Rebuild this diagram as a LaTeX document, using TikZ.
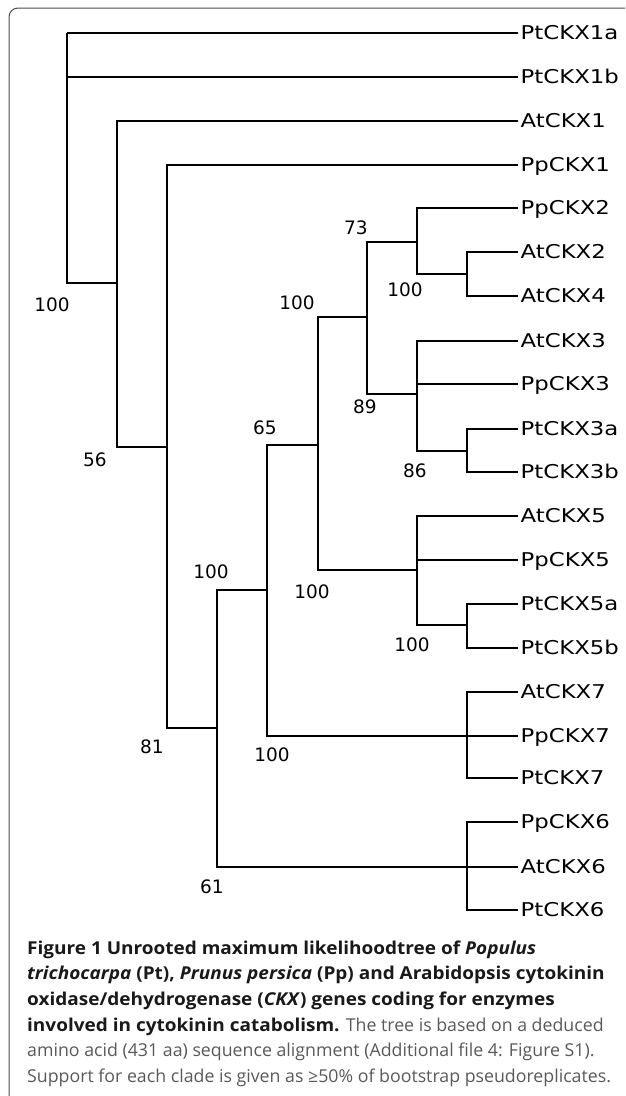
\documentclass[tikz,border=0pt]{standalone}
\usepackage{fontspec}
\setmainfont{Open Sans}[BoldFeatures={FakeStretch=1.07},BoldItalicFeatures={FakeStretch=1.07}]
\newfontfamily\leaffont{DejaVu Sans}[FakeStretch=1.2]
\newfontfamily\bootfont{DejaVu Sans}
\definecolor{framegray}{gray}{0.3}
\definecolor{capdark}{gray}{0.1}
\definecolor{capgray}{gray}{0.35}

\begin{document}
\begin{tikzpicture}[x=1pt,y=-1pt,
 branch/.style={line width=1.8pt},
 leaf/.style={anchor=west,inner sep=2.5pt,text height=13.5pt,text depth=0pt,
  font=\leaffont\fontsize{19}{19}\selectfont},
 boot/.style={inner sep=0pt,font=\bootfont\fontsize{18.5}{18.5}\selectfont},
 capline/.style={anchor=base west,inner sep=0pt,text=capdark,
  font=\fontsize{17.75}{25.7}\selectfont}]
 \useasboundingbox (0,0) rectangle (625,1096);
 \clip (0,0) rectangle (625,1096);
 % frame, open to the right and below
 \draw[framegray,line width=1pt,rounded corners=9pt] (9,1120) -- (9,8) -- (650,8);

 % leaves
 \node[leaf] (PtCKX1a) at (518,33) {PtCKX1a};
 \node[leaf] (PtCKX1b) at (518,77) {PtCKX1b};
 \node[leaf] (AtCKX1) at (518,121) {AtCKX1};
 \node[leaf] (PpCKX1) at (518,165) {PpCKX1};
 \node[leaf] (PpCKX2) at (518,208) {PpCKX2};
 \node[leaf] (AtCKX2) at (518,252) {AtCKX2};
 \node[leaf] (AtCKX4) at (518,296) {AtCKX4};
 \node[leaf] (AtCKX3) at (518,341) {AtCKX3};
 \node[leaf] (PpCKX3) at (518,384) {PpCKX3};
 \node[leaf] (PtCKX3a) at (518,429) {PtCKX3a};
 \node[leaf] (PtCKX3b) at (518,472) {PtCKX3b};
 \node[leaf] (AtCKX5) at (518,516) {AtCKX5};
 \node[leaf] (PpCKX5) at (518,560) {PpCKX5};
 \node[leaf] (PtCKX5a) at (518,604) {PtCKX5a};
 \node[leaf] (PtCKX5b) at (518,648) {PtCKX5b};
 \node[leaf] (AtCKX7) at (518,692) {AtCKX7};
 \node[leaf] (PpCKX7) at (518,736) {PpCKX7};
 \node[leaf] (PtCKX7) at (518,778) {PtCKX7};
 \node[leaf] (PpCKX6) at (518,822) {PpCKX6};
 \node[leaf] (AtCKX6) at (518,867) {AtCKX6};
 \node[leaf] (PtCKX6) at (518,910) {PtCKX6};

 % inner nodes
 \coordinate (root) at (67,33);
 \coordinate (nA) at (117,283);
 \coordinate (nB) at (167,447);
 \coordinate (nC) at (217,728);
 \coordinate (nD) at (267,590);
 \coordinate (nE) at (467,867);
 \coordinate (nF) at (318,445);
 \coordinate (nG) at (467,736);
 \coordinate (nH) at (367,317);
 \coordinate (nI) at (417,570);
 \coordinate (nJ) at (417,242);
 \coordinate (nK) at (417,394);
 \coordinate (nL) at (467,274);
 \coordinate (nM) at (467,451);
 \coordinate (nN) at (467,625);

 % branches
 \draw[branch] (root) |- (PtCKX1a.west) (root) |- (PtCKX1b.west) (root) |- (nA);
 \draw[branch] (nA) |- (AtCKX1.west) (nA) |- (nB);
 \draw[branch] (nB) |- (PpCKX1.west) (nB) |- (nC);
 \draw[branch] (nC) |- (nD) (nC) |- (nE);
 \draw[branch] (nD) |- (nF) (nD) |- (nG);
 \draw[branch] (nF) |- (nH) (nF) |- (nI);
 \draw[branch] (nH) |- (nJ) (nH) |- (nK);
 \draw[branch] (nJ) |- (PpCKX2.west) (nJ) |- (nL);
 \draw[branch] (nL) |- (AtCKX2.west) (nL) |- (AtCKX4.west);
 \draw[branch] (nK) |- (AtCKX3.west) (nK) |- (PpCKX3.west) (nK) |- (nM);
 \draw[branch] (nM) |- (PtCKX3a.west) (nM) |- (PtCKX3b.west);
 \draw[branch] (nI) |- (AtCKX5.west) (nI) |- (PpCKX5.west) (nI) |- (nN);
 \draw[branch] (nN) |- (PtCKX5a.west) (nN) |- (PtCKX5b.west);
 \draw[branch] (nG) |- (AtCKX7.west) (nG) |- (PpCKX7.west) (nG) |- (PtCKX7.west);
 \draw[branch] (nE) |- (PpCKX6.west) (nE) |- (AtCKX6.west) (nE) |- (PtCKX6.west);

 % bootstrap values
 \node[boot] (bA) at (52,305) {100};
 \node[boot] (bB) at (95,460) {56};
 \node[boot] (bC) at (152,747) {81};
 \node[boot] (bD) at (211,572) {100};
 \node[boot] (bE) at (212,887) {61};
 \node[boot] (bF) at (265,428) {65};
 \node[boot] (bG) at (272,755) {100};
 \node[boot] (bH) at (297,303) {100};
 \node[boot] (bI) at (312,592) {100};
 \node[boot] (bJ) at (356,228) {73};
 \node[boot] (bK) at (365,407) {89};
 \node[boot] (bL) at (405,290) {100};
 \node[boot] (bM) at (415,471) {86};
 \node[boot] (bN) at (412,645) {100};

 % caption
 \node[capline] (cap1) at (27,954) {\textbf{Figure 1 Unrooted maximum likelihoodtree of \textit{Populus}}};
 \node[capline] (cap2) at (27,979.7) {\textbf{\textit{trichocarpa} (Pt), \textit{Prunus persica} (Pp) and Arabidopsis cytokinin}};
 \node[capline] (cap3) at (27,1005.4) {\textbf{oxidase/dehydrogenase (\textit{CKX}) genes coding for enzymes}};
 \node[capline] (cap4) at (27,1031) {\textbf{involved in cytokinin catabolism.} \textcolor{capgray}{The tree is based on a deduced}};
 \node[capline,text=capgray] (cap5) at (27,1056.8) {amino acid (431 aa) sequence alignment (Additional file 4: Figure S1).};
 \node[capline,text=capgray] (cap6) at (27,1082.5) {Support for each clade is given as ≥50\% of bootstrap pseudoreplicates.};
\end{tikzpicture}
\end{document}
